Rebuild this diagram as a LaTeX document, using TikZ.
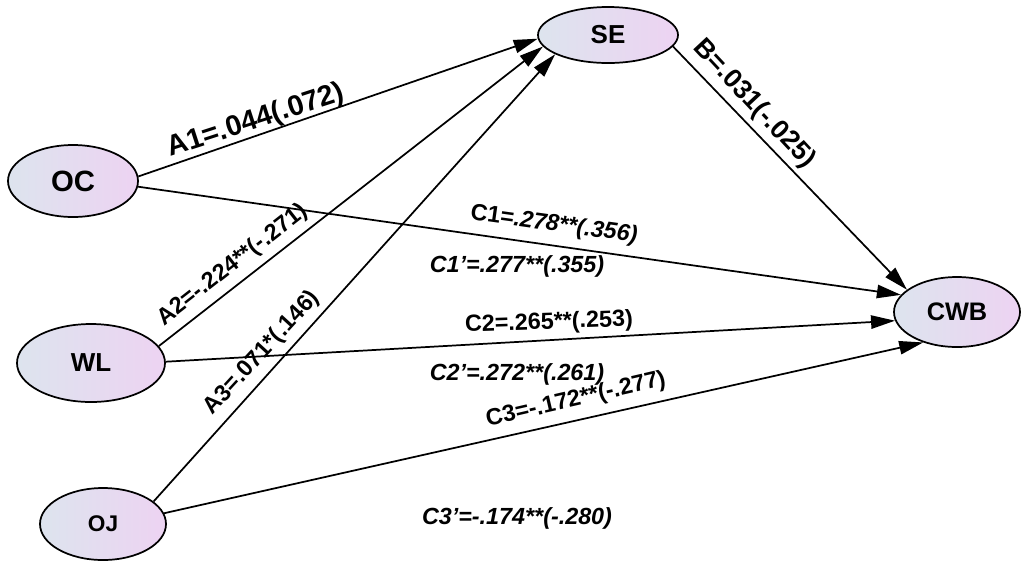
\documentclass[tikz,border=0pt]{standalone}
\usepackage{fontspec}
\setmainfont{Liberation Sans}
\usetikzlibrary{shapes.geometric,arrows.meta}
\definecolor{lft}{HTML}{DDE4EE}
\definecolor{rgt}{HTML}{EDD3F2}
\begin{document}
\begin{tikzpicture}[x=0.75pt,y=-0.75pt,
  var/.style={ellipse,draw=black,line width=1.3pt,left color=lft,right color=rgt,inner sep=0pt},
  conn/.style={line width=1.3pt,-{Triangle[length=18pt,width=10pt]}},
  lab/.style={font=\fontsize{17.5}{20}\selectfont\bfseries,inner sep=0pt},
  big/.style={font=\fontsize{21.5}{24}\selectfont\bfseries,inner sep=0pt}]
\useasboundingbox (0,0) rectangle (1021,562);
% variables
\node[var,minimum width=97.5pt,minimum height=54pt,font=\fontsize{22}{24}\selectfont\bfseries] (OC) at (73,181) {OC};
\node[var,minimum width=105pt,minimum height=42pt,font=\fontsize{19.5}{22}\selectfont\bfseries] (SE) at (608,35) {SE};
\node[var,minimum width=94.5pt,minimum height=52.5pt,font=\fontsize{19}{22}\selectfont\bfseries] (CWB) at (957,312) {CWB};
\node[var,minimum width=111pt,minimum height=58.5pt,font=\fontsize{19.5}{22}\selectfont\bfseries] (WL) at (91,363) {WL};
\node[var,minimum width=94.5pt,minimum height=54pt,font=\fontsize{17}{19}\selectfont\bfseries] (OJ) at (103,524) {OJ};
% paths
\draw[conn] (OC.4) -- (SE.183);
\draw[conn] (WL.14) -- (SE.190);
\draw[conn] (OJ.24) -- (SE.200);
\draw[conn] (OC.-5) -- (CWB.163);
\draw[conn] (WL.1) -- (CWB.188);
\draw[conn] (OJ.10) -- (CWB.222);
\draw[conn] (SE.-10) -- (CWB.156);
% labels
\node[big,rotate=18] (lA1) at (256,121) {A1=.044(.072)};
\node[lab,rotate=38] (lA2) at (233,265) {A2=-.224**(-.271)};
\node[lab,rotate=47.5] (lA3) at (262,353) {A3=.071*(.146)};
\node[lab,font=\fontsize{20}{22}\selectfont\bfseries,rotate=-47] (lB) at (754,104) {B=.031(-.025)};
\node[lab,rotate=-8] (lC1) at (554,225) {C1=\textit{.278**(.356)}};
\node[lab] (lC1p) at (517,266) {\itshape C1'=.277**(.355)};
\node[lab,rotate=2] (lC2) at (549,323) {C2=.265**(.253)};
\node[lab] (lC2p) at (517,374) {\itshape C2'=.272**(.261)};
\node[lab,rotate=13] (lC3) at (576,400) {C3=-.172**(-.277)};
\node[lab] (lC3p) at (517,518) {\itshape C3'=-.174**(-.280)};
\end{tikzpicture}
\end{document}
